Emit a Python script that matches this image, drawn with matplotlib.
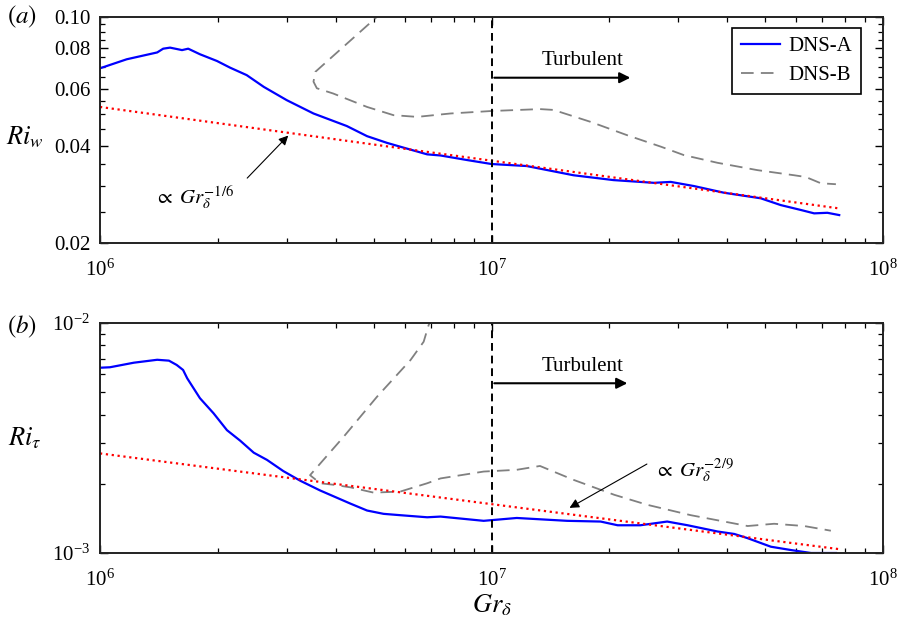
import matplotlib
matplotlib.use('Agg')
import matplotlib.pyplot as plt
from matplotlib.ticker import FixedLocator, FixedFormatter, NullFormatter, LogLocator

plt.rcParams['font.family'] = ['Liberation Serif', 'DejaVu Serif']
plt.rcParams['mathtext.fontset'] = 'stix'
plt.rcParams['font.size'] = 15

# panel (a): Ri_w
a_dnsA_gr = [1.0e6, 1.17e6, 1.40e6, 1.45e6, 1.51e6, 1.62e6, 1.68e6, 1.80e6, 1.99e6, 2.15e6,
             2.37e6, 2.62e6, 3.00e6, 3.51e6, 4.27e6, 4.81e6, 5.41e6, 5.85e6, 6.85e6, 7.41e6,
             8.67e6, 1.0e7, 1.23e7, 1.62e7, 2.05e7, 2.60e7, 2.87e7, 3.29e7, 3.93e7, 4.87e7,
             5.48e7, 6.17e7, 6.67e7, 7.21e7, 7.73e7]
a_dnsA_ri = [0.0694, 0.0740, 0.0777, 0.0798, 0.0804, 0.0790, 0.0798, 0.0767, 0.0731, 0.0697,
             0.0661, 0.0608, 0.0553, 0.0503, 0.0460, 0.0428, 0.0408, 0.0397, 0.0376, 0.0373,
             0.0361, 0.0351, 0.0346, 0.0324, 0.0313, 0.0307, 0.0309, 0.0300, 0.0286, 0.0275,
             0.0262, 0.0253, 0.0247, 0.0248, 0.0244]
a_dnsB_gr = [5.3e6, 5.05e6, 3.55e6, 3.51e6, 3.58e6, 3.94e6, 4.81e6, 5.62e6, 6.46e6, 7.85e6,
             1.0e7, 1.33e7, 1.44e7, 1.79e7, 2.22e7, 2.71e7, 3.10e7, 3.78e7, 4.78e7, 5.93e7,
             6.35e7, 6.94e7, 7.58e7]
a_dnsB_ri = [0.105, 0.0991, 0.0677, 0.0631, 0.0602, 0.0580, 0.0527, 0.0497, 0.0491, 0.0503,
             0.0512, 0.0519, 0.0516, 0.0474, 0.0431, 0.0397, 0.0374, 0.0354, 0.0336, 0.0324,
             0.0320, 0.0306, 0.0304]
a_fit_gr = [1.0e6, 7.7e7]
a_fit_ri = [0.0527, 0.0256]
a_yticks = [0.02, 0.04, 0.06, 0.08, 0.10]
a_yticklabels = ['0.02', '0.04', '0.06', '0.08', '0.10']
a_yminor = [0.025, 0.03, 0.035, 0.045, 0.05, 0.055, 0.065, 0.07, 0.075, 0.085, 0.09, 0.095]

# panel (b): Ri_tau
b_dnsA_gr = [1.0e6, 1.06e6, 1.22e6, 1.40e6, 1.50e6, 1.57e6, 1.63e6, 1.67e6, 1.80e6, 1.95e6,
             2.11e6, 2.28e6, 2.47e6, 2.67e6, 2.94e6, 3.25e6, 3.65e6, 4.36e6, 4.81e6, 5.30e6,
             5.85e6, 6.85e6, 7.41e6, 9.55e6, 1.16e7, 1.56e7, 1.90e7, 2.10e7, 2.40e7, 2.81e7,
             3.17e7, 3.78e7, 4.17e7, 4.51e7, 5.17e7, 5.82e7, 6.55e7, 7.58e7]
b_dnsA_ri = [6.39e-3, 6.42e-3, 6.72e-3, 6.92e-3, 6.86e-3, 6.57e-3, 6.25e-3, 5.75e-3, 4.71e-3, 4.05e-3,
             3.42e-3, 3.08e-3, 2.73e-3, 2.54e-3, 2.27e-3, 2.06e-3, 1.87e-3, 1.64e-3, 1.53e-3, 1.48e-3,
             1.46e-3, 1.43e-3, 1.44e-3, 1.38e-3, 1.42e-3, 1.38e-3, 1.37e-3, 1.32e-3, 1.32e-3, 1.37e-3,
             1.32e-3, 1.24e-3, 1.21e-3, 1.16e-3, 1.065e-3, 1.03e-3, 1.0e-3, 1.0e-3]
b_dnsB_gr = [7.11e6, 6.91e6, 6.71e6, 6.21e6, 5.10e6, 4.19e6, 3.44e6, 3.65e6, 3.95e6, 4.36e6,
             5.00e6, 5.85e6, 6.85e6, 7.41e6, 9.55e6, 1.16e7, 1.33e7, 1.62e7, 2.06e7, 2.50e7,
             3.23e7, 3.93e7, 4.51e7, 5.27e7, 6.29e7, 7.36e7]
b_dnsB_ri = [1.083e-2, 0.98e-2, 8.29e-3, 6.90e-3, 4.78e-3, 3.20e-3, 2.18e-3, 2.01e-3, 1.98e-3, 1.93e-3,
             1.83e-3, 1.85e-3, 2.01e-3, 2.11e-3, 2.26e-3, 2.30e-3, 2.39e-3, 2.08e-3, 1.79e-3, 1.62e-3,
             1.46e-3, 1.37e-3, 1.31e-3, 1.34e-3, 1.31e-3, 1.25e-3]
b_fit_gr = [1.0e6, 7.7e7]
b_fit_ri = [2.71e-3, 1.04e-3]

gr_turb = 1.0e7

fig = plt.figure(figsize=(8.97, 6.26), dpi=100)
ax1 = fig.add_axes([100 / 897, 1 - 243 / 626, 783 / 897, 226 / 626])
ax2 = fig.add_axes([100 / 897, 1 - 553 / 626, 783 / 897, 230 / 626])

blue = '#0000ff'
grey = '#808080'

for ax in (ax1, ax2):
    ax.set_xscale('log')
    ax.set_yscale('log')
    ax.set_xlim(1e6, 1e8)
    ax.tick_params(which='both', direction='in', top=True, right=True, labelsize=15)
    ax.tick_params(which='major', length=6, width=1.0, pad=7)
    ax.tick_params(axis='x', which='major', pad=12)
    ax.tick_params(which='minor', length=3.5, width=0.9)
    ax.xaxis.set_minor_formatter(NullFormatter())
    for s in ax.spines.values():
        s.set_linewidth(1.4)
        s.set_color('#222222')

# (a)
ax1.plot(a_dnsA_gr, a_dnsA_ri, color=blue, lw=1.6, label='DNS-A')
ax1.plot(a_dnsB_gr, a_dnsB_ri, color=grey, lw=1.3, dashes=(7, 4), label='DNS-B')
ax1.plot(a_fit_gr, a_fit_ri, color='red', lw=1.6, ls=':')
ax1.axvline(gr_turb, color='black', lw=1.4, dashes=(4, 2.5))
ax1.set_ylim(0.02, 0.1)
ax1.yaxis.set_major_locator(FixedLocator(a_yticks))
ax1.yaxis.set_major_formatter(FixedFormatter(a_yticklabels))
ax1.yaxis.set_minor_locator(FixedLocator(a_yminor))
ax1.yaxis.set_minor_formatter(NullFormatter())
ax1.set_ylabel(r'$Ri_w$', fontsize=19, rotation=0, va='center', ha='center')
ax1.yaxis.set_label_coords(-0.096, 0.47)
ax1.annotate('', xy=(2.30e7, 0.0649), xytext=(gr_turb, 0.0649),
             arrowprops=dict(arrowstyle='-|>', color='black', lw=1.5, mutation_scale=16))
ax1.text(1.71e7, 0.0735, 'Turbulent', ha='center', va='center', fontsize=15)
ax1.annotate('', xy=(3.06e6, 0.0436), xytext=(2.35e6, 0.0313),
             arrowprops=dict(arrowstyle='-|>', color='black', lw=0.8, mutation_scale=14))
ax1.text(1.37e6, 0.0277, r'$\propto\ Gr_{\delta}^{-1/6}$', ha='left', va='center', fontsize=15)
leg = ax1.legend(loc='upper right', bbox_to_anchor=(0.9715, 0.95), borderaxespad=0,
                 fancybox=False, edgecolor='black', framealpha=1, fontsize=15,
                 handlelength=1.9, handletextpad=0.4, labelspacing=0.45, borderpad=0.4)
leg.get_frame().set_linewidth(1.2)

# (b)
ax2.plot(b_dnsA_gr, b_dnsA_ri, color=blue, lw=1.6)
ax2.plot(b_dnsB_gr, b_dnsB_ri, color=grey, lw=1.3, dashes=(7, 4))
ax2.plot(b_fit_gr, b_fit_ri, color='red', lw=1.6, ls=':')
ax2.axvline(gr_turb, color='black', lw=1.4, dashes=(4, 2.5))
ax2.set_ylim(1e-3, 1e-2)
ax2.yaxis.set_minor_locator(LogLocator(base=10, subs=range(2, 10)))
ax2.yaxis.set_minor_formatter(NullFormatter())
ax2.set_ylabel(r'$Ri_\tau$', fontsize=19, rotation=0, va='center', ha='center')
ax2.yaxis.set_label_coords(-0.096, 0.5)
ax2.set_xlabel(r'$Gr_\delta$', fontsize=19, labelpad=1)
ax2.annotate('', xy=(2.26e7, 5.47e-3), xytext=(gr_turb, 5.47e-3),
             arrowprops=dict(arrowstyle='-|>', color='black', lw=1.5, mutation_scale=16))
ax2.text(1.71e7, 6.46e-3, 'Turbulent', ha='center', va='center', fontsize=15)
ax2.annotate('', xy=(1.56e7, 1.55e-3), xytext=(2.53e7, 2.47e-3),
             arrowprops=dict(arrowstyle='-|>', color='black', lw=0.8, mutation_scale=14))
ax2.text(2.60e7, 2.30e-3, r'$\propto\ Gr_{\delta}^{-2/9}$', ha='left', va='center', fontsize=15)

fig.text(22 / 897, 1 - 17 / 626, r'$(a)$', ha='center', va='center', fontsize=18)
fig.text(22 / 897, 1 - 327 / 626, r'$(b)$', ha='center', va='center', fontsize=18)

fig.savefig('out.png', dpi=100)
